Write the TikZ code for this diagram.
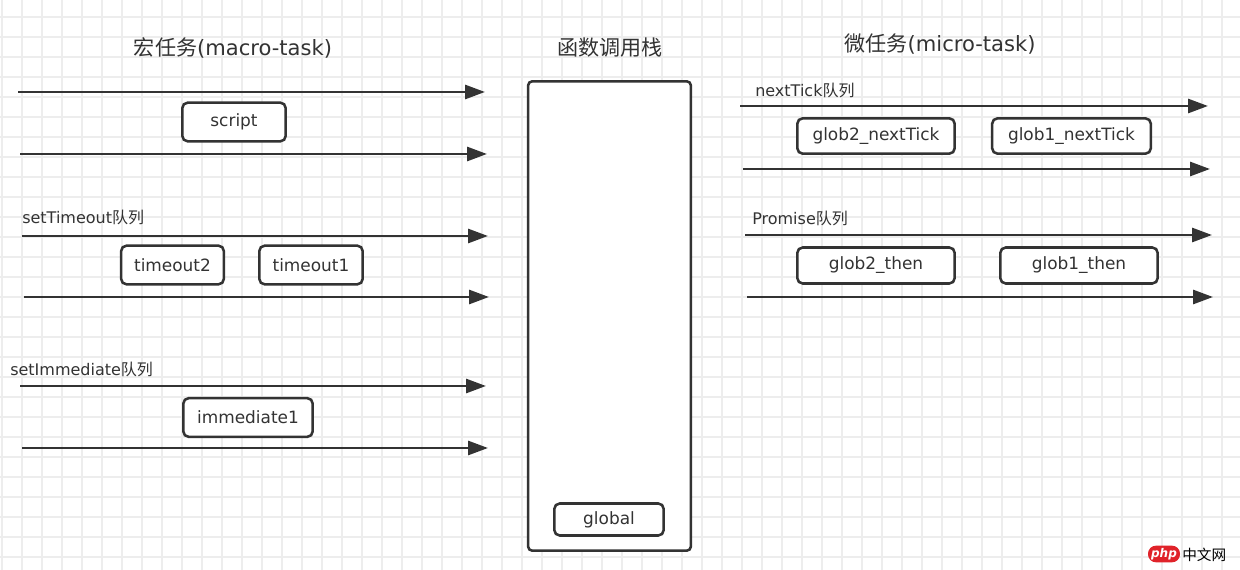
\documentclass[tikz,border=0pt]{standalone}
\usepackage{fontspec}
\setmainfont{DejaVu Sans}
\newfontfamily\cjk{Noto Sans CJK SC}
\usetikzlibrary{arrows.meta}
\definecolor{ink}{HTML}{333333}
\definecolor{gridcol}{HTML}{EDEDED}
\definecolor{phpred}{HTML}{E0232A}
\tikzset{
  gridline/.style={draw=gridcol, line width=0.9pt},
  queue/.style={draw=ink, line width=2.1pt, -{Triangle[length=15pt, width=10.5pt]}},
  taskbox/.style={draw=ink, line width=1.9pt, fill=white, rounded corners=4pt,
    minimum height=29pt, text=ink, font=\fontsize{12.7}{15}\selectfont},
  qlabel/.style={anchor=west, inner sep=0pt, text=ink, font=\fontsize{12}{14}\selectfont},
  title/.style={inner sep=0pt, text=ink, font=\fontsize{15.8}{18}\selectfont}
}
\begin{document}
\begin{tikzpicture}[x=0.75pt, y=-0.75pt]
  % Sfondo a griglia
  \fill[white] (0,0) rectangle (1240,570);
  \useasboundingbox (0,0) rectangle (1240,570);
  \foreach \gx in {2,22,...,1222} \draw[gridline] (\gx,0) -- (\gx,570);
  \foreach \gy in {17,37,...,557} \draw[gridline] (0,\gy) -- (1240,\gy);

  % Titoli
  \node[title] (macroTitle) at (233,48) {{\cjk 宏任务}(macro-task)};
  \node[title] (stackTitle) at (610,48) {\cjk 函数调用栈};
  \node[title] (microTitle) at (940,44) {{\cjk 微任务}(micro-task)};

  % Macro-task: script
  \coordinate (scriptInA) at (18,92);   \coordinate (scriptInB) at (485,92);
  \coordinate (scriptOutA) at (20,154); \coordinate (scriptOutB) at (487,154);
  \draw[queue] (scriptInA) -- (scriptInB);
  \draw[queue] (scriptOutA) -- (scriptOutB);
  \node[taskbox, minimum width=77.5pt] (script) at (234,122) {script};

  % Macro-task: setTimeout
  \node[qlabel] (timeoutLabel) at (22,217) {setTimeout{\cjk 队列}};
  \coordinate (timeoutInA) at (22,236);   \coordinate (timeoutInB) at (488,236);
  \coordinate (timeoutOutA) at (24,297);  \coordinate (timeoutOutB) at (489,297);
  \draw[queue] (timeoutInA) -- (timeoutInB);
  \draw[queue] (timeoutOutA) -- (timeoutOutB);
  \node[taskbox, minimum width=77pt] (timeout2) at (172.5,265) {timeout2};
  \node[taskbox, minimum width=77.5pt] (timeout1) at (311,265) {timeout1};

  % Macro-task: setImmediate
  \node[qlabel] (immediateLabel) at (10,369) {setImmediate{\cjk 队列}};
  \coordinate (immediateInA) at (20,386);  \coordinate (immediateInB) at (486,386);
  \coordinate (immediateOutA) at (22,448); \coordinate (immediateOutB) at (488,448);
  \draw[queue] (immediateInA) -- (immediateInB);
  \draw[queue] (immediateOutA) -- (immediateOutB);
  \node[taskbox, minimum width=97pt] (immediate1) at (248,417.5) {immediate1};

  % Stack delle chiamate
  \node[draw=ink, line width=1.9pt, fill=white, rounded corners=3pt,
    minimum width=122pt, minimum height=352pt] (stack) at (609.5,316) {};
  \node[taskbox, minimum width=82pt, minimum height=24pt] (global) at (609,519.5) {global};

  % Micro-task: nextTick
  \node[qlabel] (tickLabel) at (755,90) {nextTick{\cjk 队列}};
  \coordinate (tickInA) at (740,106);  \coordinate (tickInB) at (1208,106);
  \coordinate (tickOutA) at (743,169); \coordinate (tickOutB) at (1210,169);
  \draw[queue] (tickInA) -- (tickInB);
  \draw[queue] (tickOutA) -- (tickOutB);
  \node[taskbox, minimum width=118pt, minimum height=26.5pt] (glob2Tick) at (876,136) {glob2\_nextTick};
  \node[taskbox, minimum width=119pt, minimum height=26.5pt] (glob1Tick) at (1071.5,136) {glob1\_nextTick};

  % Micro-task: Promise
  \node[qlabel] (promiseLabel) at (752,218) {Promise{\cjk 队列}};
  \coordinate (promiseInA) at (745,235);  \coordinate (promiseInB) at (1212,235);
  \coordinate (promiseOutA) at (747,297); \coordinate (promiseOutB) at (1213,297);
  \draw[queue] (promiseInA) -- (promiseInB);
  \draw[queue] (promiseOutA) -- (promiseOutB);
  \node[taskbox, minimum width=118pt, minimum height=27pt] (glob2Then) at (876,265.5) {glob2\_then};
  \node[taskbox, minimum width=118pt, minimum height=27pt] (glob1Then) at (1079,265.5) {glob1\_then};

  % Marchio
  \node[fill=phpred, rounded corners=6pt, minimum width=24pt, minimum height=12.5pt,
    inner sep=0pt, text=white, font=\bfseries\itshape\fontsize{9}{9}\selectfont] (phpLogo) at (1164,554) {php};
  \node[anchor=west, inner sep=0pt, text=black, font=\cjk\fontsize{11}{11}\selectfont] (phpSite) at (1182,555) {中文网};
\end{tikzpicture}
\end{document}
